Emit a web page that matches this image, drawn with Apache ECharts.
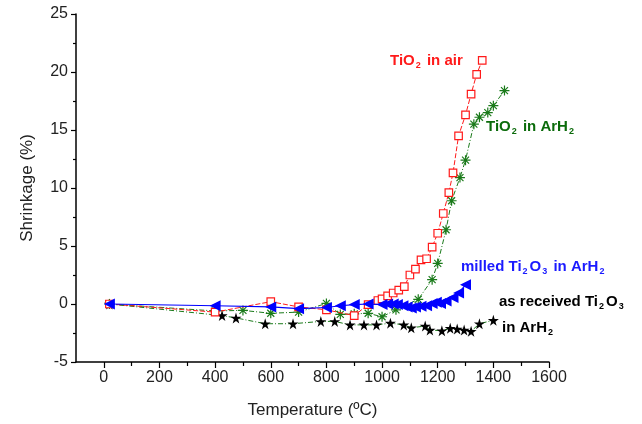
<!DOCTYPE html>
<html>
<head>
<meta charset="utf-8">
<script src="https://cdn.jsdelivr.net/npm/echarts@6/dist/echarts.min.js"></script>
<style>
  html, body { margin: 0; padding: 0; background: #fff; }
  #mychart { width: 642px; height: 424px; }
</style>
</head>
<body>
<div id="mychart"></div>
<script>
// 数据
var airT = [20, 400, 600, 700, 800, 900, 950, 985, 1000, 1020, 1040, 1060, 1080, 1100, 1120, 1140, 1160, 1180, 1200, 1220, 1240, 1255, 1275, 1300, 1320, 1340, 1360]
var airS = [0, -0.7, 0.2, -0.25, -0.5, -1.0, -0.05, 0.3, 0.45, 0.7, 0.95, 1.2, 1.5, 2.5, 3.0, 3.8, 3.9, 4.9, 6.1, 7.8, 9.6, 11.3, 14.5, 16.3, 18.1, 19.8, 21.0]

var arT = [20, 400, 500, 600, 700, 800, 850, 900, 950, 1000, 1050, 1130, 1180, 1200, 1230, 1250, 1280, 1300, 1330, 1350, 1380, 1400, 1440]
var arS = [0, -0.6, -0.55, -0.8, -0.7, 0.05, -0.9, -0.85, -0.8, -1.1, -0.5, 0.4, 2.1, 3.5, 6.4, 8.9, 10.9, 12.4, 15.5, 16.1, 16.5, 17.1, 18.4]

var milledT = [20, 400, 600, 700, 800, 850, 900, 950, 1000, 1020, 1040, 1055, 1075, 1090, 1105, 1120, 1140, 1160, 1180, 1195, 1210, 1230, 1255, 1275, 1300]
var milledS = [0, -0.15, -0.25, -0.4, -0.3, -0.15, -0.05, 0, -0.05, 0, 0, -0.05, -0.15, -0.25, -0.35, -0.25, -0.2, -0.15, 0.05, 0.15, 0.05, 0.25, 0.55, 0.95, 1.65]

var recvT = [20, 425, 475, 580, 680, 780, 830, 885, 935, 980, 1030, 1078, 1105, 1155, 1172, 1215, 1245, 1270, 1295, 1320, 1350, 1400]
var recvS = [0, -1.0, -1.2, -1.7, -1.7, -1.5, -1.5, -1.8, -1.8, -1.8, -1.65, -1.8, -2.05, -1.9, -2.25, -2.3, -2.1, -2.15, -2.25, -2.35, -1.7, -1.4]

// 刻度
var xMajor = [0, 200, 400, 600, 800, 1000, 1200, 1400, 1600]
var xMinor = [100, 300, 500, 700, 900, 1100, 1300, 1500]

function pairs(t, s) {
  return t.map(function (v, i) { return [v, s[i]] })
}

var starPath = 'path://M50,0L61,35L98,35L68,57L79,91L50,70L21,91L32,57L2,35L39,35Z'
var asterPath = 'path://M4.4,0L5.6,0L5.6,10L4.4,10Z M0,4.4L10,4.4L10,5.6L0,5.6Z M1.08,1.92L1.92,1.08L8.92,8.08L8.08,8.92Z M8.08,1.08L8.92,1.92L1.92,8.92L1.08,8.08Z'

var font = 'Liberation Sans, Arial, sans-serif'

var myChart = echarts.init(document.getElementById('mychart'))

function lbl(color) {
  return {
    a: { fontSize: 15, fontWeight: 'bold', fill: color, color: color, fontFamily: font, lineHeight: 20 },
    s: { fontSize: 9, fontWeight: 'bold', fill: color, color: color, fontFamily: font, lineHeight: 20, padding: [9, 2, 0, 1] }
  }
}

var option = {
  animation: false,
  backgroundColor: '#fff',
  grid: { left: 76, right: 93, top: 14, bottom: 62 },
  xAxis: [{
    type: 'value',
    min: -100,
    max: 1600,
    name: 'Temperature (ºC)',
    nameLocation: 'middle',
    nameGap: 40,
    nameTextStyle: { fontSize: 17, color: '#222', fontFamily: font },
    axisLine: { show: true, onZero: false, lineStyle: { color: '#000', width: 1.5 } },
    axisTick: { show: true, length: 6, customValues: xMajor, lineStyle: { color: '#000', width: 1.2 } },
    axisLabel: { customValues: xMajor, fontSize: 16, color: '#222', fontFamily: font, margin: 8,
      formatter: function (v) { return String(v) } },
    splitLine: { show: false }
  }, {
    type: 'value',
    min: -100,
    max: 1600,
    position: 'bottom',
    axisLine: { show: false, onZero: false },
    axisTick: { show: true, length: 4, customValues: xMinor, lineStyle: { color: '#000', width: 1.2 } },
    axisLabel: { show: false },
    splitLine: { show: false }
  }],
  yAxis: {
    type: 'value',
    min: -5,
    max: 25,
    interval: 5,
    name: 'Shrinkage (%)',
    nameLocation: 'middle',
    nameGap: 40,
    nameTextStyle: { fontSize: 17, color: '#222', fontFamily: font },
    axisLine: { show: true, onZero: false, lineStyle: { color: '#000', width: 1.5 } },
    axisTick: { show: true, length: 5, lineStyle: { color: '#000', width: 1.2 } },
    minorTick: { show: true, splitNumber: 2, length: 3, lineStyle: { color: '#000', width: 1.2 } },
    axisLabel: { fontSize: 16, color: '#222', fontFamily: font, margin: 8 },
    splitLine: { show: false }
  },
  series: [
    {
      name: 'as received Ti2O3 in ArH2',
      type: 'line',
      data: pairs(recvT, recvS),
      symbol: starPath,
      symbolSize: 11,
      itemStyle: { color: '#000' },
      lineStyle: { color: '#1a7a1a', width: 1, type: [5, 2, 1, 2] },
      z: 2
    },
    {
      name: 'TiO2 in ArH2',
      type: 'line',
      data: pairs(arT, arS),
      symbol: asterPath,
      symbolSize: 10,
      itemStyle: { color: '#1a7a1a' },
      lineStyle: { color: '#1a7a1a', width: 1, type: [5, 2, 1, 2] },
      z: 3
    },
    {
      name: 'TiO2 in air',
      type: 'line',
      data: pairs(airT, airS),
      symbol: 'rect',
      symbolSize: 7.5,
      itemStyle: { color: '#fff', borderColor: '#ff1a1a', borderWidth: 1.2 },
      lineStyle: { color: '#ff1a1a', width: 1, type: [5, 2] },
      z: 4
    },
    {
      name: 'milled Ti2O3 in ArH2',
      type: 'line',
      data: pairs(milledT, milledS),
      symbol: 'triangle',
      symbolSize: 11,
      symbolRotate: 90,
      itemStyle: { color: '#0000ff' },
      lineStyle: { color: '#0000ff', width: 1.2 },
      z: 5
    }
  ],
  graphic: [
    { type: 'text', left: 390, top: 52, style: { text: '{a|TiO}{s|2}{a| in air}', rich: lbl('#ff1a1a') } },
    { type: 'text', left: 486, top: 118, style: { text: '{a|TiO}{s|2}{a| in ArH}{s|2}', rich: lbl('#0b6b0b') } },
    { type: 'text', left: 461, top: 258, style: { text: '{a|milled Ti}{s|2}{a|O}{s|3}{a| in ArH}{s|2}', rich: lbl('#1a1aff') } },
    { type: 'text', left: 499, top: 293, style: { text: '{a|as received Ti}{s|2}{a|O}{s|3}', rich: lbl('#000') } },
    { type: 'text', left: 502, top: 319, style: { text: '{a|in ArH}{s|2}', rich: lbl('#000') } }
  ]
}

myChart.setOption(option)
</script>
</body>
</html>
